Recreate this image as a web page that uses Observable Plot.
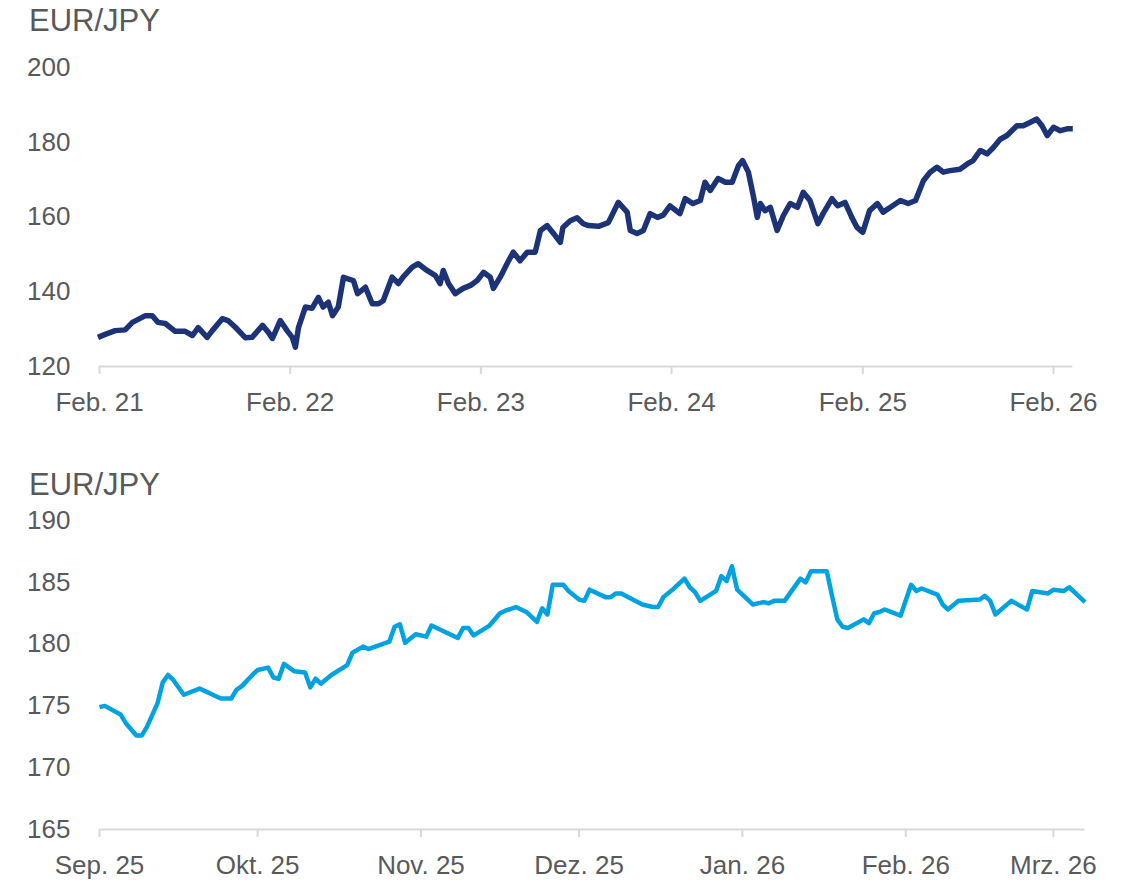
<!DOCTYPE html>
<html><head><meta charset="utf-8">
<script src="https://cdn.jsdelivr.net/npm/d3@7"></script>
<script src="https://cdn.jsdelivr.net/npm/@observablehq/plot@0.6"></script>
<style>
body{margin:0;background:#fff;}
#wrap{position:relative;width:1122px;height:880px;font-family:"Liberation Sans",Arial,sans-serif;color:#58595b;}
.title{position:absolute;left:29px;font-size:31px;line-height:31px;white-space:nowrap;}
.chart{position:absolute;left:0;}
</style></head><body><div id="wrap">
<div class="title" style="top:5px">EUR/JPY</div>
<div class="chart" id="c1" style="top:40px"></div>
<div class="title" style="top:469px">EUR/JPY</div>
<div class="chart" id="c2" style="top:500px"></div>
</div>
<script>
// ---- Top chart: EUR/JPY, Feb 2021 – Mar 2026 ----
const topDates = ["2021-01-29","2021-02-12","2021-03-03","2021-03-22","2021-04-05","2021-04-30","2021-05-13","2021-05-24","2021-06-07","2021-06-26","2021-07-15","2021-07-29","2021-08-09","2021-08-26","2021-09-05","2021-09-24","2021-10-05","2021-10-19","2021-11-07","2021-11-20","2021-12-10","2021-12-21","2021-12-29","2022-01-13","2022-01-26","2022-02-05","2022-02-11","2022-02-17","2022-03-02","2022-03-15","2022-03-27","2022-04-05","2022-04-15","2022-04-23","2022-05-04","2022-05-14","2022-05-21","2022-06-02","2022-06-10","2022-06-25","2022-07-08","2022-07-20","2022-07-29","2022-08-15","2022-08-27","2022-09-05","2022-09-22","2022-10-04","2022-10-21","2022-11-06","2022-11-15","2022-11-21","2022-12-01","2022-12-14","2022-12-29","2023-01-12","2023-01-25","2023-02-06","2023-02-19","2023-02-25","2023-03-10","2023-03-23","2023-04-04","2023-04-17","2023-05-01","2023-05-16","2023-05-26","2023-06-08","2023-06-20","2023-07-03","2023-07-08","2023-07-22","2023-08-04","2023-08-16","2023-08-26","2023-09-14","2023-10-03","2023-10-22","2023-11-08","2023-11-14","2023-11-27","2023-12-09","2023-12-22","2024-01-05","2024-01-16","2024-01-29","2024-02-17","2024-02-27","2024-03-13","2024-03-27","2024-04-05","2024-04-15","2024-04-30","2024-05-14","2024-05-27","2024-06-08","2024-06-16","2024-06-27","2024-07-07","2024-07-14","2024-07-20","2024-07-29","2024-08-08","2024-08-21","2024-09-02","2024-09-15","2024-09-29","2024-10-10","2024-10-23","2024-11-07","2024-11-17","2024-12-04","2024-12-15","2024-12-29","2025-01-11","2025-01-21","2025-02-01","2025-02-14","2025-03-01","2025-03-12","2025-03-26","2025-04-14","2025-04-29","2025-05-13","2025-05-28","2025-06-10","2025-06-23","2025-07-05","2025-07-18","2025-08-06","2025-08-20","2025-08-31","2025-09-14","2025-09-27","2025-10-09","2025-10-22","2025-11-04","2025-11-23","2025-12-05","2025-12-18","2025-12-31","2026-01-10","2026-01-20","2026-02-01","2026-02-14","2026-02-27","2026-03-10"];
const topValues = [127.8,128.6,129.6,129.8,131.8,133.6,133.6,131.8,131.5,129.4,129.4,128.3,130.4,127.8,129.6,132.8,132.3,130.5,127.7,127.8,131.0,129.2,127.5,132.3,129.6,127.8,125.2,130.5,135.9,135.6,138.5,135.9,137.2,133.6,135.9,143.9,143.5,143.0,139.5,141.2,136.8,136.8,137.6,143.9,142.2,143.9,146.5,147.5,145.7,144.3,142.2,145.7,142.2,139.5,140.9,141.7,143.0,145.2,143.9,140.9,143.9,147.5,150.6,148.3,150.6,150.6,156.4,157.7,155.6,153.2,157.2,159.0,159.8,158.2,157.7,157.5,158.5,163.9,161.3,156.4,155.6,156.4,160.9,159.9,160.5,163.0,160.9,164.9,163.6,164.4,169.3,167.1,170.3,169.3,169.3,173.7,175.1,172.0,165.3,159.9,163.6,161.7,162.6,156.4,160.4,163.6,162.6,166.6,164.4,158.2,160.9,164.9,163.0,163.9,159.9,157.2,155.9,161.7,163.6,161.3,162.6,164.4,163.6,164.4,169.7,172.0,173.3,172.0,172.4,172.8,174.2,175.1,177.8,176.9,178.6,180.8,181.8,184.4,184.4,185.3,186.2,184.4,181.8,184.0,183.1,183.6,183.6];
const topTickDates = ["2021-02-01","2022-02-01","2023-02-01","2024-02-01","2025-02-01","2026-02-01"];
const topTickLabels = ["Feb. 21","Feb. 22","Feb. 23","Feb. 24","Feb. 25","Feb. 26"];
const topYTicks = [120,140,160,180,200];

// ---- Bottom chart: EUR/JPY, Sep 2025 – Mar 2026 ----
const botDates = ["2025-09-01","2025-09-02","2025-09-05","2025-09-06","2025-09-08","2025-09-09","2025-09-10","2025-09-12","2025-09-13","2025-09-14","2025-09-15","2025-09-17","2025-09-20","2025-09-22","2025-09-23","2025-09-24","2025-09-26","2025-09-27","2025-09-28","2025-09-30","2025-10-01","2025-10-03","2025-10-04","2025-10-05","2025-10-06","2025-10-08","2025-10-10","2025-10-11","2025-10-12","2025-10-13","2025-10-15","2025-10-18","2025-10-19","2025-10-21","2025-10-22","2025-10-26","2025-10-27","2025-10-28","2025-10-29","2025-10-31","2025-11-02","2025-11-03","2025-11-08","2025-11-09","2025-11-10","2025-11-11","2025-11-14","2025-11-16","2025-11-17","2025-11-19","2025-11-21","2025-11-23","2025-11-24","2025-11-25","2025-11-26","2025-11-28","2025-11-29","2025-12-01","2025-12-02","2025-12-03","2025-12-06","2025-12-07","2025-12-08","2025-12-09","2025-12-13","2025-12-15","2025-12-16","2025-12-17","2025-12-19","2025-12-21","2025-12-22","2025-12-23","2025-12-24","2025-12-27","2025-12-28","2025-12-29","2025-12-30","2025-12-31","2026-01-03","2026-01-05","2026-01-06","2026-01-07","2026-01-09","2026-01-10","2026-01-12","2026-01-13","2026-01-14","2026-01-17","2026-01-18","2026-01-19","2026-01-20","2026-01-21","2026-01-24","2026-01-25","2026-01-26","2026-01-27","2026-01-28","2026-01-31","2026-02-02","2026-02-03","2026-02-04","2026-02-07","2026-02-08","2026-02-09","2026-02-11","2026-02-15","2026-02-16","2026-02-17","2026-02-18","2026-02-21","2026-02-24","2026-02-25","2026-02-28","2026-03-01","2026-03-03","2026-03-04","2026-03-07"];
const botValues = [174.9,175.0,174.3,173.6,172.6,172.6,173.3,175.2,176.9,177.5,177.1,175.9,176.4,176.0,175.8,175.6,175.6,176.3,176.6,177.5,177.9,178.1,177.3,177.2,178.4,177.8,177.7,176.5,177.2,176.8,177.5,178.3,179.3,179.8,179.6,180.2,181.4,181.6,180.1,180.8,180.6,181.5,180.5,181.3,181.3,180.7,181.5,182.5,182.7,183.0,182.6,181.8,182.9,182.4,184.8,184.8,184.3,183.6,183.5,184.4,183.8,183.8,184.1,184.1,183.2,183.0,183.0,183.8,184.5,185.3,184.6,184.2,183.5,184.3,185.5,185.1,186.3,184.4,183.2,183.4,183.3,183.5,183.5,184.1,185.3,185.0,185.9,185.9,183.9,182.0,181.4,181.3,182.0,181.7,182.5,182.6,182.8,182.3,184.8,184.3,184.5,184.0,183.2,182.8,183.5,183.6,183.9,183.5,182.4,183.5,182.8,184.3,184.1,184.4,184.3,184.6,183.4];
const botTickDates = ["2025-09-01","2025-10-01","2025-11-01","2025-12-01","2026-01-01","2026-02-01","2026-03-01"];
const botTickLabels = ["Sep. 25","Okt. 25","Nov. 25","Dez. 25","Jan. 26","Feb. 26","Mrz. 26"];
const botYTicks = [165,170,175,180,185,190];

const parse = d3.utcParse("%Y-%m-%d");
const textColor = "#58595b";
const axisGray = "#d9d9d9";
const font = "'Liberation Sans', Arial, sans-serif";

function makeChart({dates, values, tickDates, tickLabels, yTicks, yDomain, xDomain, color, strokeWidth, height, marginTop, marginRight}) {
  const data = dates.map((d, i) => ({date: parse(d), value: values[i]}));
  const ticks = tickDates.map(parse);
  const fmt = d => tickLabels[ticks.findIndex(t => +t === +d)];
  return Plot.plot({
    width: 1122,
    height,
    marginLeft: 99,
    marginRight,
    marginTop,
    marginBottom: 50,
    style: {fontFamily: font, fontSize: "26px", color: textColor, background: "transparent", overflow: "visible"},
    x: {type: "utc", domain: xDomain.map(parse), label: null},
    y: {domain: yDomain, label: null},
    marks: [
      Plot.ruleY([yDomain[0]], {stroke: axisGray, strokeWidth: 2}),
      Plot.axisX({ticks, tickFormat: fmt, tickSize: 8, tickPadding: 18, stroke: axisGray, strokeWidth: 2, fill: textColor, label: null}),
      Plot.axisY({ticks: yTicks, tickSize: 0, tickPadding: 29, fill: textColor, label: null}),
      Plot.lineY(data, {x: "date", y: "value", stroke: color, strokeWidth, strokeLinejoin: "round", strokeLinecap: "butt"})
    ]
  });
}

document.getElementById("c1").append(makeChart({
  dates: topDates, values: topValues, tickDates: topTickDates, tickLabels: topTickLabels,
  yTicks: topYTicks, yDomain: [120, 200], xDomain: ["2021-02-01", "2026-03-10"],
  color: "#1c3378", strokeWidth: 5.5, height: 376, marginTop: 27, marginRight: 49.7
}));
document.getElementById("c2").append(makeChart({
  dates: botDates, values: botValues, tickDates: botTickDates, tickLabels: botTickLabels,
  yTicks: botYTicks, yDomain: [165, 190], xDomain: ["2025-09-01", "2026-03-07"],
  color: "#00a3e0", strokeWidth: 4.5, height: 379, marginTop: 20, marginRight: 37.5
}));
</script>
</body></html>
